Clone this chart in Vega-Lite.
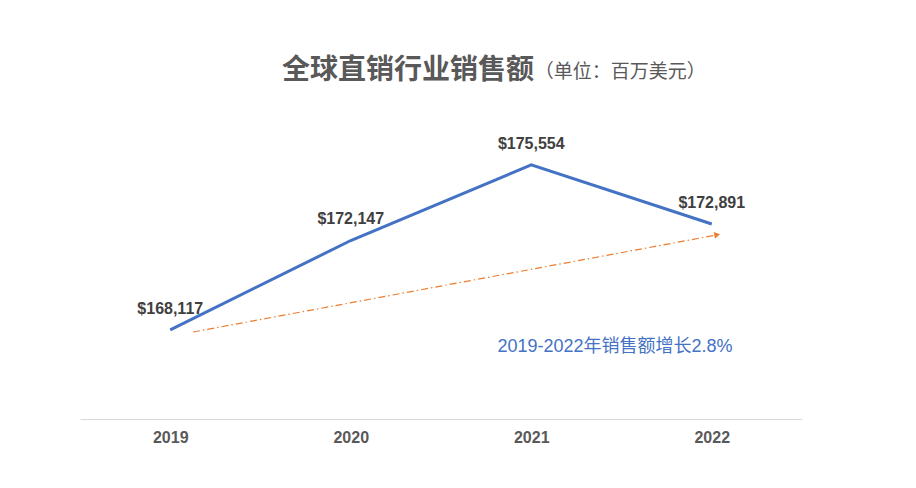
{
  "$schema": "https://vega.github.io/schema/vega-lite/v6.json",
  "autosize": {"type": "none"},
  "width": 722,
  "height": 309,
  "padding": {"left": 80, "top": 110, "right": 114, "bottom": 69},
  "background": "white",
  "config": {"view": {"stroke": null}, "font": "Liberation Sans, Noto Sans CJK SC"},
  "title": {
    "text": "全球直销行业销售额",
    "font": "Noto Sans CJK SC",
    "fontSize": 28,
    "fontWeight": "bold",
    "color": "#595959",
    "anchor": "middle",
    "dx": -33,
    "baseline": "middle",
    "offset": -36
  },
  "datasets": {
    "sales": [
      {"year": 2019, "value": 168117},
      {"year": 2020, "value": 172147},
      {"year": 2021, "value": 175554},
      {"year": 2022, "value": 172891}
    ],
    "trend": [
      {"year": 2019.126, "value": 168022},
      {"year": 2022.024, "value": 172391}
    ],
    "arrow": [
      {"year": 2022.03, "value": 172400}
    ],
    "note": [
      {"year": 2021.464, "value": 167346, "label": "2019-2022年销售额增长2.8%"}
    ],
    "unit": [
      {"year": 2021.02, "value": 179750, "label": "（单位：百万美元）"}
    ]
  },
  "layer": [
    {
      "data": {"name": "trend"},
      "mark": {"type": "line", "color": "#ED7D31", "strokeWidth": 1.2, "strokeDash": [7, 3, 1.5, 3]},
      "encoding": {
        "x": {"field": "year", "type": "quantitative", "scale": {"domain": [2018.5, 2022.5], "nice": false},
          "axis": {"values": [2019, 2020, 2021, 2022], "format": "d", "title": null, "ticks": false, "grid": false,
            "domainColor": "#d9d9d9", "domainWidth": 1, "labelFontSize": 16, "labelFontWeight": "bold",
            "labelColor": "#595959", "labelPadding": 10, "labelFont": "Liberation Sans"}},
        "y": {"field": "value", "type": "quantitative", "scale": {"domain": [164100, 178030], "zero": false, "nice": false}, "axis": null}
      }
    },
    {
      "data": {"name": "arrow"},
      "mark": {"type": "point", "shape": "triangle-right", "filled": true, "color": "#ED7D31", "size": 45, "angle": 349.5, "opacity": 1},
      "encoding": {
        "x": {"field": "year", "type": "quantitative"},
        "y": {"field": "value", "type": "quantitative"}
      }
    },
    {
      "data": {"name": "sales"},
      "mark": {"type": "line", "color": "#4472C4", "strokeWidth": 3},
      "encoding": {
        "x": {"field": "year", "type": "quantitative"},
        "y": {"field": "value", "type": "quantitative"}
      }
    },
    {
      "data": {"name": "sales"},
      "mark": {"type": "text", "dy": -21, "fontSize": 16, "fontWeight": "bold", "color": "#404040", "font": "Liberation Sans"},
      "encoding": {
        "x": {"field": "year", "type": "quantitative"},
        "y": {"field": "value", "type": "quantitative"},
        "text": {"field": "value", "type": "quantitative", "format": "$,.0f"}
      }
    },
    {
      "data": {"name": "note"},
      "mark": {"type": "text", "fontSize": 18, "color": "#4472C4", "font": "Liberation Sans, Noto Sans CJK SC"},
      "encoding": {
        "x": {"field": "year", "type": "quantitative"},
        "y": {"field": "value", "type": "quantitative"},
        "text": {"field": "label"}
      }
    },
    {
      "data": {"name": "unit"},
      "mark": {"type": "text", "align": "left", "fontSize": 19, "color": "#595959", "font": "Noto Sans CJK SC"},
      "encoding": {
        "x": {"field": "year", "type": "quantitative"},
        "y": {"field": "value", "type": "quantitative"},
        "text": {"field": "label"}
      }
    }
  ]
}
